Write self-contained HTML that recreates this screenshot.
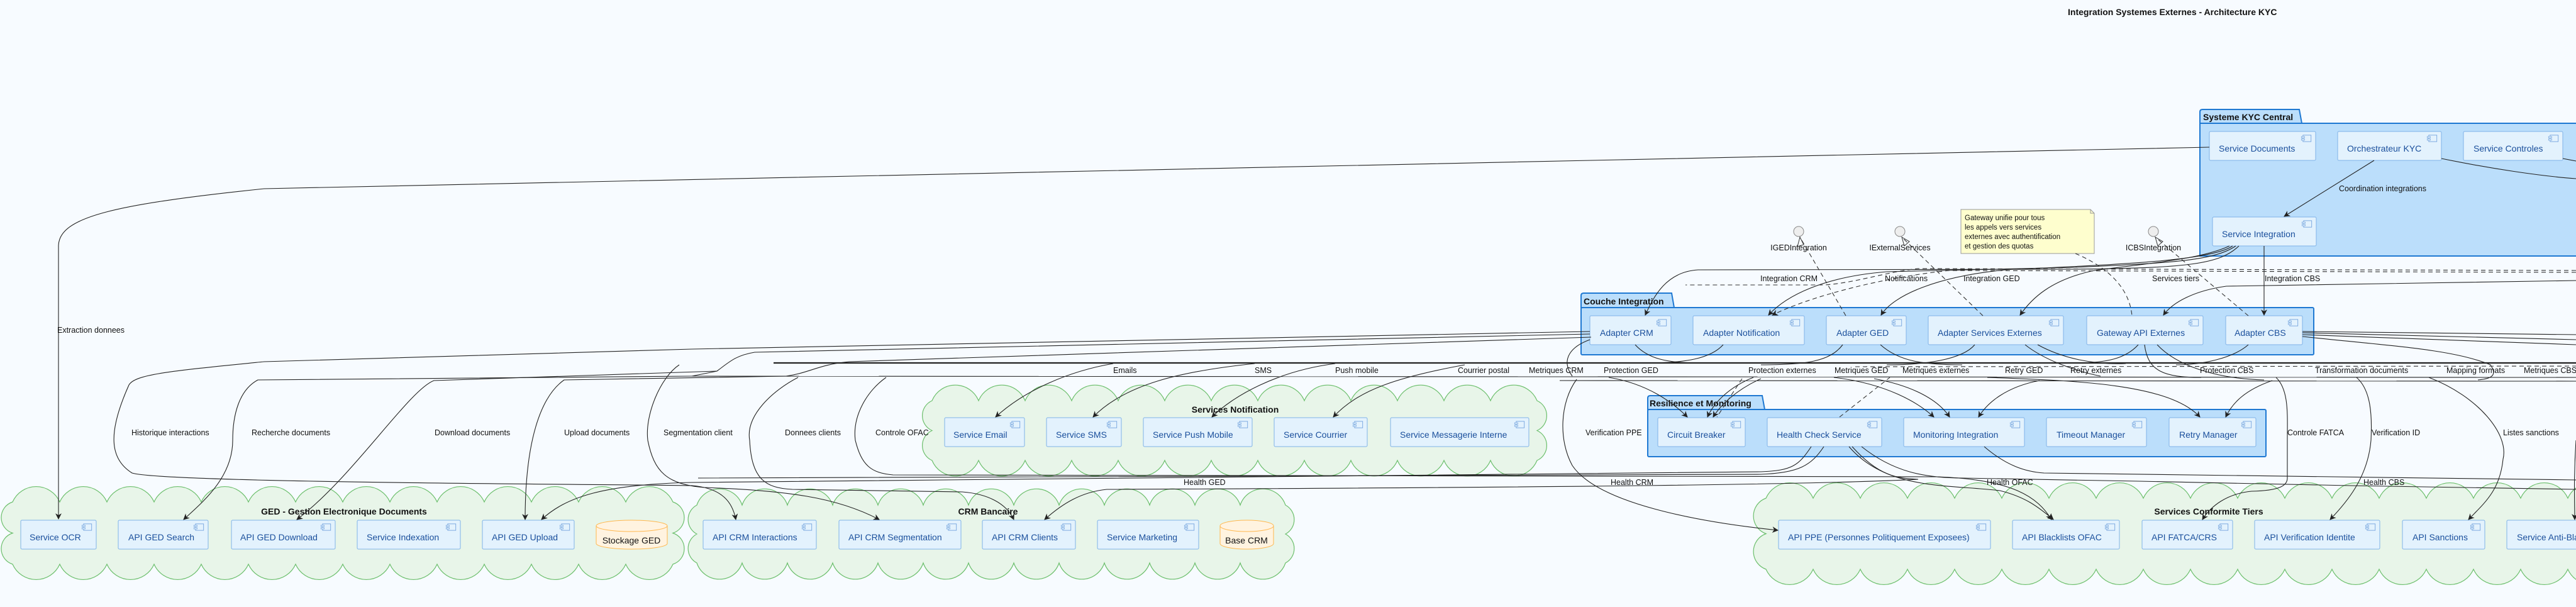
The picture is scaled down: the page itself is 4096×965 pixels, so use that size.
<!DOCTYPE html>
<html><head><meta charset="utf-8"><style>
html,body{margin:0;padding:0;background:#f7fbff;}
svg{display:block;}
text{font-family:"Liberation Sans",sans-serif;}
.ct{font-size:14px;fill:#1a4f9c;}
.lb{font-size:12.5px;fill:#111;}
.ti{font-size:14px;font-weight:bold;fill:#111;}
.cb{fill:#e3f2fd;stroke:#7fb2e8;stroke-width:1;}
.pk{fill:#bbdefb;stroke:#1e78d2;stroke-width:2;}
.cl{fill:#e8f5e9;stroke:#6cbf6c;stroke-width:1.2;}
.e{fill:none;stroke:#222;stroke-width:1.1;}
.d{fill:none;stroke:#333;stroke-width:1.1;stroke-dasharray:7 5;}
</style></head><body>
<svg width="4096" height="965" viewBox="0 0 4096 965" xmlns="http://www.w3.org/2000/svg">
<defs>
<symbol id="ic" viewBox="0 0 20 14"><rect x="4" y="1" width="15" height="12" fill="#e3f2fd" stroke="#6fa0dc"/><rect x="1" y="3.5" width="6" height="2.5" fill="#e3f2fd" stroke="#6fa0dc" stroke-width="0.8"/><rect x="1" y="8" width="6" height="2.5" fill="#e3f2fd" stroke="#6fa0dc" stroke-width="0.8"/></symbol>
<marker id="a" viewBox="0 0 10 10" refX="9" refY="5" markerWidth="9" markerHeight="9" orient="auto"><path d="M0,0 L10,5 L0,10 L3,5 Z" fill="#222"/></marker>
</defs>
<rect width="4096" height="965" fill="#f7fbff"/>
<text x="3288" y="24" style="font-size:14px;font-weight:bold;fill:#111">Integration Systemes Externes - Architecture KYC</text>

<!-- clouds -->
<path class="cl" d="M20,897 a26,26 0 0 1 0,-49.5 a26,26 0 0 1 0,-49.5 a41,41 0 0 1 75,0 a41,41 0 0 1 75,0 a41,41 0 0 1 75,0 a41,41 0 0 1 75,0 a41,41 0 0 1 75,0 a41,41 0 0 1 75,0 a41,41 0 0 1 75,0 a41,41 0 0 1 75,0 a41,41 0 0 1 75,0 a41,41 0 0 1 75,0 a41,41 0 0 1 75,0 a41,41 0 0 1 75,0 a41,41 0 0 1 75,0 a41,41 0 0 1 75,0 a26,26 0 0 1 0,49.5 a26,26 0 0 1 0,49.5 a41,41 0 0 1 -75,0 a41,41 0 0 1 -75,0 a41,41 0 0 1 -75,0 a41,41 0 0 1 -75,0 a41,41 0 0 1 -75,0 a41,41 0 0 1 -75,0 a41,41 0 0 1 -75,0 a41,41 0 0 1 -75,0 a41,41 0 0 1 -75,0 a41,41 0 0 1 -75,0 a41,41 0 0 1 -75,0 a41,41 0 0 1 -75,0 a41,41 0 0 1 -75,0 a41,41 0 0 1 -75,0 Z"/>
<path class="cl" d="M1108,895 a26,26 0 0 1 0,-46 a26,26 0 0 1 0,-46 a38,38 0 0 1 72,0 a38,38 0 0 1 72,0 a38,38 0 0 1 72,0 a38,38 0 0 1 72,0 a38,38 0 0 1 72,0 a38,38 0 0 1 72,0 a38,38 0 0 1 72,0 a38,38 0 0 1 72,0 a38,38 0 0 1 72,0 a38,38 0 0 1 72,0 a38,38 0 0 1 72,0 a38,38 0 0 1 72,0 a38,38 0 0 1 72,0 a26,26 0 0 1 0,46 a26,26 0 0 1 0,46 a38,38 0 0 1 -72,0 a38,38 0 0 1 -72,0 a38,38 0 0 1 -72,0 a38,38 0 0 1 -72,0 a38,38 0 0 1 -72,0 a38,38 0 0 1 -72,0 a38,38 0 0 1 -72,0 a38,38 0 0 1 -72,0 a38,38 0 0 1 -72,0 a38,38 0 0 1 -72,0 a38,38 0 0 1 -72,0 a38,38 0 0 1 -72,0 a38,38 0 0 1 -72,0 Z"/>
<path class="cl" d="M1482,732 a26,26 0 0 1 0,-47.5 a26,26 0 0 1 0,-47.5 a40,40 0 0 1 74,0 a40,40 0 0 1 74,0 a40,40 0 0 1 74,0 a40,40 0 0 1 74,0 a40,40 0 0 1 74,0 a40,40 0 0 1 74,0 a40,40 0 0 1 74,0 a40,40 0 0 1 74,0 a40,40 0 0 1 74,0 a40,40 0 0 1 74,0 a40,40 0 0 1 74,0 a40,40 0 0 1 74,0 a40,40 0 0 1 74,0 a26,26 0 0 1 0,47.5 a26,26 0 0 1 0,47.5 a40,40 0 0 1 -74,0 a40,40 0 0 1 -74,0 a40,40 0 0 1 -74,0 a40,40 0 0 1 -74,0 a40,40 0 0 1 -74,0 a40,40 0 0 1 -74,0 a40,40 0 0 1 -74,0 a40,40 0 0 1 -74,0 a40,40 0 0 1 -74,0 a40,40 0 0 1 -74,0 a40,40 0 0 1 -74,0 a40,40 0 0 1 -74,0 a40,40 0 0 1 -74,0 Z"/>
<path class="cl" d="M2808,905 a30,30 0 0 1 0,-56.5 a30,30 0 0 1 0,-56.5 a41,41 0 0 1 75,0 a41,41 0 0 1 75,0 a41,41 0 0 1 75,0 a41,41 0 0 1 75,0 a41,41 0 0 1 75,0 a41,41 0 0 1 75,0 a41,41 0 0 1 75,0 a41,41 0 0 1 75,0 a41,41 0 0 1 75,0 a41,41 0 0 1 75,0 a41,41 0 0 1 75,0 a41,41 0 0 1 75,0 a41,41 0 0 1 75,0 a41,41 0 0 1 75,0 a41,41 0 0 1 75,0 a41,41 0 0 1 75,0 a41,41 0 0 1 75,0 a41,41 0 0 1 75,0 L4158,905 a41,41 0 0 1 -75,0 a41,41 0 0 1 -75,0 a41,41 0 0 1 -75,0 a41,41 0 0 1 -75,0 a41,41 0 0 1 -75,0 a41,41 0 0 1 -75,0 a41,41 0 0 1 -75,0 a41,41 0 0 1 -75,0 a41,41 0 0 1 -75,0 a41,41 0 0 1 -75,0 a41,41 0 0 1 -75,0 a41,41 0 0 1 -75,0 a41,41 0 0 1 -75,0 a41,41 0 0 1 -75,0 a41,41 0 0 1 -75,0 a41,41 0 0 1 -75,0 a41,41 0 0 1 -75,0 a41,41 0 0 1 -75,0 Z"/>
<text class="ti" x="547" y="818" text-anchor="middle">GED - Gestion Electronique Documents</text>
<text class="ti" x="1571" y="818" text-anchor="middle">CRM Bancaire</text>
<text class="ti" x="1964" y="656" text-anchor="middle">Services Notification</text>
<text class="ti" x="3512" y="818" text-anchor="middle">Services Conformite Tiers</text>

<!-- packages -->
<path class="pk" d="M3498,196 L3498,178 Q3498,174 3502,174 L3656,174 L3660,196 Z"/>
<rect class="pk" x="3498" y="196" width="640" height="211"/>
<text class="ti" x="3503" y="191">Systeme KYC Central</text>
<path class="pk" d="M2514,489 L2514,470 Q2514,466 2518,466 L2658,466 L2662,489 Z"/>
<rect class="pk" x="2514" y="489" width="1165" height="75" rx="2"/>
<text class="ti" x="2518" y="484">Couche Integration</text>
<path class="pk" d="M2620,651 L2620,633 Q2620,629 2624,629 L2802,629 L2806,651 Z"/>
<rect class="pk" x="2620" y="651" width="983" height="75" rx="2"/>
<text class="ti" x="2623" y="646">Resilience et Monitoring</text>

<!-- components -->
<g>
<rect class="cb" x="3513" y="209" width="169" height="46" rx="2"/><text class="ct" x="3528" y="241">Service Documents</text><use href="#ic" x="3658" y="214" width="18" height="12"/>
<rect class="cb" x="3717" y="209" width="165" height="46" rx="2"/><text class="ct" x="3732" y="241">Orchestrateur KYC</text><use href="#ic" x="3858" y="214" width="18" height="12"/>
<rect class="cb" x="3917" y="209" width="158" height="46" rx="2"/><text class="ct" x="3933" y="241">Service Controles</text><use href="#ic" x="4051" y="214" width="18" height="12"/>
<rect class="cb" x="3518" y="345" width="165" height="46" rx="2"/><text class="ct" x="3533" y="377">Service Integration</text><use href="#ic" x="3659" y="350" width="18" height="12"/>

<rect class="cb" x="2528" y="502" width="129" height="46" rx="2"/><text class="ct" x="2544" y="534">Adapter CRM</text><use href="#ic" x="2633" y="507" width="18" height="12"/>
<rect class="cb" x="2692" y="502" width="177" height="46" rx="2"/><text class="ct" x="2708" y="534">Adapter Notification</text><use href="#ic" x="2845" y="507" width="18" height="12"/>
<rect class="cb" x="2904" y="502" width="127" height="46" rx="2"/><text class="ct" x="2920" y="534">Adapter GED</text><use href="#ic" x="3007" y="507" width="18" height="12"/>
<rect class="cb" x="3066" y="502" width="215" height="46" rx="2"/><text class="ct" x="3081" y="534">Adapter Services Externes</text><use href="#ic" x="3257" y="507" width="18" height="12"/>
<rect class="cb" x="3318" y="502" width="185" height="46" rx="2"/><text class="ct" x="3334" y="534">Gateway API Externes</text><use href="#ic" x="3479" y="507" width="18" height="12"/>
<rect class="cb" x="3539" y="502" width="122" height="46" rx="2"/><text class="ct" x="3553" y="534">Adapter CBS</text><use href="#ic" x="3637" y="507" width="18" height="12"/>

<rect class="cb" x="1502" y="664" width="127" height="46" rx="2"/><text class="ct" x="1516" y="696">Service Email</text><use href="#ic" x="1605" y="669" width="18" height="12"/>
<rect class="cb" x="1664" y="664" width="119" height="46" rx="2"/><text class="ct" x="1679" y="696">Service SMS</text><use href="#ic" x="1759" y="669" width="18" height="12"/>
<rect class="cb" x="1818" y="664" width="173" height="46" rx="2"/><text class="ct" x="1833" y="696">Service Push Mobile</text><use href="#ic" x="1967" y="669" width="18" height="12"/>
<rect class="cb" x="2026" y="664" width="148" height="46" rx="2"/><text class="ct" x="2041" y="696">Service Courrier</text><use href="#ic" x="2150" y="669" width="18" height="12"/>
<rect class="cb" x="2211" y="664" width="220" height="46" rx="2"/><text class="ct" x="2226" y="696">Service Messagerie Interne</text><use href="#ic" x="2407" y="669" width="18" height="12"/>

<rect class="cb" x="2636" y="664" width="139" height="46" rx="2"/><text class="ct" x="2651" y="696">Circuit Breaker</text><use href="#ic" x="2751" y="669" width="18" height="12"/>
<rect class="cb" x="2810" y="664" width="182" height="46" rx="2"/><text class="ct" x="2825" y="696">Health Check Service</text><use href="#ic" x="2968" y="669" width="18" height="12"/>
<rect class="cb" x="3027" y="664" width="192" height="46" rx="2"/><text class="ct" x="3042" y="696">Monitoring Integration</text><use href="#ic" x="3195" y="669" width="18" height="12"/>
<rect class="cb" x="3254" y="664" width="159" height="46" rx="2"/><text class="ct" x="3270" y="696">Timeout Manager</text><use href="#ic" x="3389" y="669" width="18" height="12"/>
<rect class="cb" x="3449" y="664" width="138" height="46" rx="2"/><text class="ct" x="3465" y="696">Retry Manager</text><use href="#ic" x="3563" y="669" width="18" height="12"/>

<rect class="cb" x="33" y="827" width="120" height="46" rx="2"/><text class="ct" x="47" y="859">Service OCR</text><use href="#ic" x="129" y="832" width="18" height="12"/>
<rect class="cb" x="188" y="827" width="143" height="46" rx="2"/><text class="ct" x="204" y="859">API GED Search</text><use href="#ic" x="307" y="832" width="18" height="12"/>
<rect class="cb" x="368" y="827" width="165" height="46" rx="2"/><text class="ct" x="382" y="859">API GED Download</text><use href="#ic" x="509" y="832" width="18" height="12"/>
<rect class="cb" x="568" y="827" width="164" height="46" rx="2"/><text class="ct" x="583" y="859">Service Indexation</text><use href="#ic" x="708" y="832" width="18" height="12"/>
<rect class="cb" x="767" y="827" width="146" height="46" rx="2"/><text class="ct" x="782" y="859">API GED Upload</text><use href="#ic" x="889" y="832" width="18" height="12"/>

<rect class="cb" x="1118" y="827" width="180" height="46" rx="2"/><text class="ct" x="1133" y="859">API CRM Interactions</text><use href="#ic" x="1274" y="832" width="18" height="12"/>
<rect class="cb" x="1334" y="827" width="194" height="46" rx="2"/><text class="ct" x="1349" y="859">API CRM Segmentation</text><use href="#ic" x="1504" y="832" width="18" height="12"/>
<rect class="cb" x="1562" y="827" width="148" height="46" rx="2"/><text class="ct" x="1577" y="859">API CRM Clients</text><use href="#ic" x="1686" y="832" width="18" height="12"/>
<rect class="cb" x="1745" y="827" width="161" height="46" rx="2"/><text class="ct" x="1760" y="859">Service Marketing</text><use href="#ic" x="1882" y="832" width="18" height="12"/>

<rect class="cb" x="2828" y="827" width="337" height="46" rx="2"/><text class="ct" x="2843" y="859">API PPE (Personnes Politiquement Exposees)</text><use href="#ic" x="3141" y="832" width="18" height="12"/>
<rect class="cb" x="3200" y="827" width="170" height="46" rx="2"/><text class="ct" x="3215" y="859">API Blacklists OFAC</text><use href="#ic" x="3346" y="832" width="18" height="12"/>
<rect class="cb" x="3406" y="827" width="144" height="46" rx="2"/><text class="ct" x="3421" y="859">API FATCA/CRS</text><use href="#ic" x="3526" y="832" width="18" height="12"/>
<rect class="cb" x="3585" y="827" width="199" height="46" rx="2"/><text class="ct" x="3600" y="859">API Verification Identite</text><use href="#ic" x="3760" y="832" width="18" height="12"/>
<rect class="cb" x="3820" y="827" width="131" height="46" rx="2"/><text class="ct" x="3836" y="859">API Sanctions</text><use href="#ic" x="3927" y="832" width="18" height="12"/>
<rect class="cb" x="3986" y="827" width="200" height="46" rx="2"/><text class="ct" x="4002" y="859">Service Anti-Blanchiment</text>
</g>

<!-- databases -->
<path d="M948,836 L948,864 A56.5,9 0 0 0 1061,864 L1061,836" fill="#fff3e0" stroke="#ffb74d"/>
<ellipse cx="1004.5" cy="836" rx="56.5" ry="9" fill="#fff3e0" stroke="#ffb74d"/>
<text x="1004" y="864" text-anchor="middle" style="font-size:14px;fill:#111">Stockage GED</text>
<path d="M1940,836 L1940,864 A42.5,9 0 0 0 2025,864 L2025,836" fill="#fff3e0" stroke="#ffb74d"/>
<ellipse cx="1982.5" cy="836" rx="42.5" ry="9" fill="#fff3e0" stroke="#ffb74d"/>
<text x="1982" y="864" text-anchor="middle" style="font-size:14px;fill:#111">Base CRM</text>

<!-- interfaces & note -->
<circle cx="2860" cy="368" r="8" fill="#eee" stroke="#888"/><text class="lb" x="2860" y="398" text-anchor="middle">IGEDIntegration</text>
<circle cx="3021" cy="368" r="8" fill="#eee" stroke="#888"/><text class="lb" x="3021" y="398" text-anchor="middle">IExternalServices</text>
<circle cx="3424" cy="368" r="8" fill="#eee" stroke="#888"/><text class="lb" x="3424" y="398" text-anchor="middle">ICBSIntegration</text>
<path d="M3118,333 L3324,333 L3330,339 L3330,403 L3118,403 Z" fill="#fefece" stroke="#999"/>
<path d="M3324,333 L3324,339 L3330,339" fill="none" stroke="#999"/>
<text style="font-size:11.5px;fill:#111"><tspan x="3124" y="350">Gateway unifie pour tous</tspan><tspan x="3124" y="365">les appels vers services</tspan><tspan x="3124" y="380">externes avec authentification</tspan><tspan x="3124" y="395">et gestion des quotas</tspan></text>

<!-- edges top -->
<path class="e" d="M3513,234 L420,300 C180,325 95,345 93,390 L93,825" marker-end="url(#a)"/>
<path class="e" d="M3775,255 L3632,344" marker-end="url(#a)"/>
<path class="e" d="M3882,252 C3960,268 4040,280 4096,284"/>
<path class="e" d="M4075,252 L4096,256"/>
<path class="e" d="M3600,391 L3600,501" marker-end="url(#a)"/>
<path class="e" d="M3560,391 C3530,420 3480,426 3300,428 L2700,429 C2650,432 2630,470 2616,501" marker-end="url(#a)"/>
<path class="e" d="M3555,391 C3520,415 3450,418 3300,425 L3000,432 C2900,440 2840,470 2812,501" marker-end="url(#a)"/>
<path class="e" d="M3550,391 C3520,412 3400,420 3200,428 C3080,438 3010,470 2991,501" marker-end="url(#a)"/>
<path class="e" d="M3545,391 C3500,412 3420,418 3330,430 C3260,445 3230,475 3212,501" marker-end="url(#a)"/>
<path class="e" d="M4096,446 L3540,455 C3490,462 3455,480 3440,501" marker-end="url(#a)"/>
<path class="d" d="M4096,430 L3050,427 C3000,432 2950,450 2900,453 L2680,453"/>
<path class="d" d="M4096,433 L3100,430 C3000,440 2880,470 2818,501" marker-end="url(#a)"/>
<path class="d" d="M2935,502 L2862,377"/><path d="M2862,377 L2858,392 L2868,389 Z" fill="none" stroke="#333"/>
<path class="d" d="M3153,502 L3024,377"/><path d="M3024,377 L3028,391 L3036,384 Z" fill="none" stroke="#333"/>
<path class="d" d="M3575,502 L3427,377"/><path d="M3427,377 L3431,391 L3439,384 Z" fill="none" stroke="#333"/>
<path class="d" d="M3300,403 C3340,420 3385,450 3390,502"/>
<text class="lb" x="3719" y="304">Coordination integrations</text>
<text class="lb" x="2799" y="447">Integration CRM</text>
<text class="lb" x="2997" y="447">Notifications</text>
<text class="lb" x="3122" y="447">Integration GED</text>
<text class="lb" x="3422" y="447">Services tiers</text>
<text class="lb" x="3601" y="447">Integration CBS</text>

<!-- bundle band -->
<path class="e" d="M2528,527 L1100,555"/>
<path class="e" d="M2528,531 L1200,560 C1170,565 1160,575 1140,590 L1100,598"/>
<path class="e" d="M2530,536 L1350,575 C1300,580 1290,592 1250,598"/>
<path class="e" style="stroke-width:2.2" d="M1230,577 L4096,577"/>
<path class="e" d="M1100,598 L4096,600"/>
<path class="e" d="M2480,605 L4096,606"/>
<path class="d" d="M2950,583 L4096,582"/>
<path class="e" d="M3661,527 L4096,532"/><path class="e" d="M3661,529 L4096,540"/><path class="e" d="M3661,532 L4096,548"/>
<path class="e" d="M3661,535 C3800,550 3900,555 3960,580 C3970,595 3965,602 3940,604"/>
<path class="e" d="M2600,548 C2620,570 2650,577 2700,577"/>
<path class="e" d="M2740,548 C2720,570 2680,577 2620,577"/>
<path class="e" d="M2930,548 C2910,575 2870,580 2800,580"/>
<path class="e" d="M2990,548 C3020,575 3060,580 3120,580"/>
<path class="e" d="M3140,548 C3120,572 3060,580 3000,580"/>
<path class="e" d="M3220,548 C3250,572 3300,590 3340,598"/>
<path class="e" d="M3240,548 C3280,570 3330,580 3380,578"/>
<path class="e" d="M3400,548 C3380,570 3350,577 3300,577"/>
<path class="e" d="M3410,548 C3415,590 3440,600 3500,600"/>
<path class="e" d="M3430,548 C3460,580 3520,602 3600,604"/>
<path class="e" d="M3575,548 C3550,570 3500,580 3460,580"/>
<path class="e" d="M2528,540 C2500,550 2480,570 2500,598"/>

<!-- band labels -->
<text class="lb" x="2431" y="593">Metriques CRM</text>
<text class="lb" x="2550" y="593">Protection GED</text>
<text class="lb" x="2780" y="593">Protection externes</text>
<text class="lb" x="2917" y="593">Metriques GED</text>
<text class="lb" x="3025" y="593">Metriques externes</text>
<text class="lb" x="3188" y="593">Retry GED</text>
<text class="lb" x="3292" y="593">Retry externes</text>
<text class="lb" x="3498" y="593">Protection CBS</text>
<text class="lb" x="3681" y="593">Transformation documents</text>
<text class="lb" x="3890" y="593">Mapping formats</text>
<text class="lb" x="4013" y="593">Metriques CBS</text>
<text class="lb" x="1770" y="593">Emails</text>
<text class="lb" x="1995" y="593">SMS</text>
<text class="lb" x="2123" y="593">Push mobile</text>
<text class="lb" x="2318" y="593">Courrier postal</text>

<!-- down to GED / CRM -->
<path class="e" d="M1100,555 L420,575 C270,590 215,595 205,612 C170,690 175,730 210,752 C260,768 1000,770 1100,772 C1150,776 1165,800 1170,826" marker-end="url(#a)"/>
<path class="e" d="M1100,598 L410,604 C380,620 370,660 370,700 C370,760 320,800 292,826" marker-end="url(#a)"/>
<path class="e" d="M1140,590 L690,605 C650,620 560,760 472,826" marker-end="url(#a)"/>
<path class="e" d="M1250,598 L897,604 C860,630 835,700 835,826" marker-end="url(#a)"/>
<path class="e" d="M1080,580 C1050,600 1025,660 1030,700 C1040,750 1060,770 1120,775 C1250,780 1330,790 1398,826" marker-end="url(#a)"/>
<path class="e" d="M1269,600 C1230,620 1185,660 1192,700 C1195,760 1215,776 1260,778 L1530,782 C1570,785 1600,800 1612,826" marker-end="url(#a)"/>
<path class="e" d="M1409,600 C1380,620 1355,660 1360,700 C1370,740 1385,752 1420,755 L3080,758 C3200,762 3240,790 3262,826" marker-end="url(#a)"/>
<text class="lb" x="209" y="692">Historique interactions</text>
<text class="lb" x="400" y="692">Recherche documents</text>
<text class="lb" x="691" y="692">Download documents</text>
<text class="lb" x="897" y="692">Upload documents</text>
<text class="lb" x="1055" y="692">Segmentation client</text>
<text class="lb" x="1248" y="692">Donnees clients</text>
<text class="lb" x="1392" y="692">Controle OFAC</text>
<text class="lb" x="91" y="529">Extraction donnees</text>

<!-- notifications -->
<path class="e" d="M1770,578 C1700,590 1630,620 1583,663" marker-end="url(#a)"/>
<path class="e" d="M1995,578 C1880,590 1790,610 1738,663" marker-end="url(#a)"/>
<path class="e" d="M2123,578 C2030,590 1960,630 1927,663" marker-end="url(#a)"/>
<path class="e" d="M2329,580 C2220,600 2160,620 2120,663" marker-end="url(#a)"/>

<!-- resilience -->
<path class="e" d="M2558,600 C2620,610 2660,640 2683,663" marker-end="url(#a)"/>
<path class="e" d="M2788,600 C2750,615 2725,640 2715,663" marker-end="url(#a)"/>
<path class="e" d="M2800,602 C2760,620 2735,645 2724,663" marker-end="url(#a)"/>
<path class="d" d="M2925,663 L3005,600"/>
<path class="d" d="M2770,602 L2730,663"/>
<path class="e" d="M2916,600 C3000,610 3050,640 3075,663" marker-end="url(#a)"/>
<path class="e" d="M2980,602 C3050,615 3085,640 3100,663" marker-end="url(#a)"/>
<path class="e" d="M3243,605 C3190,615 3160,640 3146,663" marker-end="url(#a)"/>
<path class="e" d="M3160,600 C3300,605 3450,610 3498,663" marker-end="url(#a)"/>
<path class="e" d="M3613,605 C3570,620 3550,640 3539,663" marker-end="url(#a)"/>

<!-- health -->
<path class="e" d="M2880,710 C2860,740 2850,748 2800,750 L1100,767 C960,770 900,790 861,826" marker-end="url(#a)"/>
<path class="e" d="M2900,710 C2880,740 2860,752 2800,754 L1110,760"/>
<path class="e" d="M2945,710 C2990,760 3020,760 3050,762 C2900,770 2500,775 1760,778 C1720,782 1690,800 1661,826" marker-end="url(#a)"/>
<path class="e" d="M2940,710 C3000,780 3100,770 3180,780 C3220,790 3240,805 3265,826" marker-end="url(#a)"/>
<path class="e" d="M3155,710 C3190,740 3220,750 3250,752 L4096,763"/>
<path class="e" d="M2960,710 C3010,750 3060,760 3120,760 L3400,765 C3600,770 3900,775 4096,778"/>
<text class="lb" x="1882" y="771">Health GED</text>
<text class="lb" x="2561" y="771">Health CRM</text>
<text class="lb" x="3159" y="771">Health OFAC</text>
<text class="lb" x="3758" y="771">Health CBS</text>

<!-- conformite -->
<path class="e" d="M2507,603 C2480,640 2478,700 2500,740 C2540,800 2700,830 2827,843" marker-end="url(#a)"/>
<text class="lb" x="2521" y="692">Verification PPE</text>
<path class="e" d="M3619,600 C3640,620 3637,660 3637,700 L3637,760 C3637,772 3625,780 3580,781 C3540,785 3515,805 3502,826" marker-end="url(#a)"/>
<path class="e" d="M3747,600 C3770,620 3772,660 3770,700 C3765,760 3730,800 3705,826" marker-end="url(#a)"/>
<path class="e" d="M3862,600 C3940,630 3990,690 3980,730 C3975,780 3950,800 3925,826" marker-end="url(#a)"/>
<path class="e" d="M4096,700 C4092,760 4094,800 4094,826" marker-end="url(#a)"/>
<text class="lb" x="3637" y="692">Controle FATCA</text>
<text class="lb" x="3771" y="692">Verification ID</text>
<text class="lb" x="3980" y="692">Listes sanctions</text>
</svg>
</body></html>
